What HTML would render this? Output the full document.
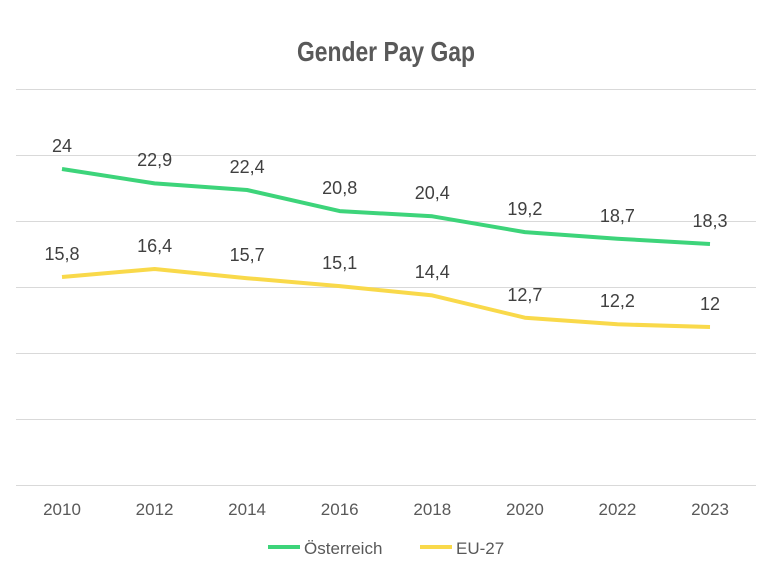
<!DOCTYPE html>
<html><head><meta charset="utf-8"><style>body{margin:0;background:#fff}</style></head>
<body>
<svg width="783" height="574" xmlns="http://www.w3.org/2000/svg" font-family="Liberation Sans, sans-serif">
<rect width="783" height="574" fill="#fff"/>
<text x="386" y="61" text-anchor="middle" font-family="Liberation Sans Narrow, Liberation Sans, sans-serif" font-weight="bold" font-size="28" fill="#595959" textLength="178" lengthAdjust="spacingAndGlyphs">Gender Pay Gap</text>
<g stroke="#d9d9d9" stroke-width="1">
<line x1="16" x2="756" y1="89.5" y2="89.5"/><line x1="16" x2="756" y1="155.5" y2="155.5"/>
<line x1="16" x2="756" y1="221.5" y2="221.5"/><line x1="16" x2="756" y1="287.5" y2="287.5"/>
<line x1="16" x2="756" y1="353.5" y2="353.5"/><line x1="16" x2="756" y1="419.5" y2="419.5"/>
<line x1="16" x2="756" y1="485.5" y2="485.5"/>
</g>
<polyline fill="none" stroke="#3dd47a" stroke-width="4" stroke-linejoin="round" points="62,169 154.6,183.4 247.1,190 339.7,211.1 432.3,216.3 524.9,232.1 617.4,238.7 710,244"/>
<polyline fill="none" stroke="#f9d94a" stroke-width="4" stroke-linejoin="round" points="62,277 154.6,269 247.1,278.2 339.7,286.1 432.3,295.4 524.9,317.7 617.4,324.3 710,327"/>
<g font-size="18" fill="#404040" text-anchor="middle">
<text x="62" y="152">24</text><text x="154.6" y="166">22,9</text><text x="247.1" y="173">22,4</text><text x="339.7" y="194">20,8</text><text x="432.3" y="199">20,4</text><text x="524.9" y="215">19,2</text><text x="617.4" y="222">18,7</text><text x="710" y="227">18,3</text>
<text x="62" y="260">15,8</text><text x="154.6" y="252">16,4</text><text x="247.1" y="261">15,7</text><text x="339.7" y="269">15,1</text><text x="432.3" y="278">14,4</text><text x="524.9" y="301">12,7</text><text x="617.4" y="307">12,2</text><text x="710" y="310">12</text>
</g>
<g font-size="17" fill="#595959" text-anchor="middle">
<text x="62" y="515">2010</text><text x="154.6" y="515">2012</text><text x="247.1" y="515">2014</text><text x="339.7" y="515">2016</text><text x="432.3" y="515">2018</text><text x="524.9" y="515">2020</text><text x="617.4" y="515">2022</text><text x="710" y="515">2023</text>
</g>
<line x1="268" x2="300" y1="547" y2="547" stroke="#3dd47a" stroke-width="4"/>
<text x="304" y="554" font-size="17" fill="#595959">Österreich</text>
<line x1="420" x2="452" y1="547" y2="547" stroke="#f9d94a" stroke-width="4"/>
<text x="456" y="554" font-size="17" fill="#595959">EU-27</text>
</svg>
</body></html>
